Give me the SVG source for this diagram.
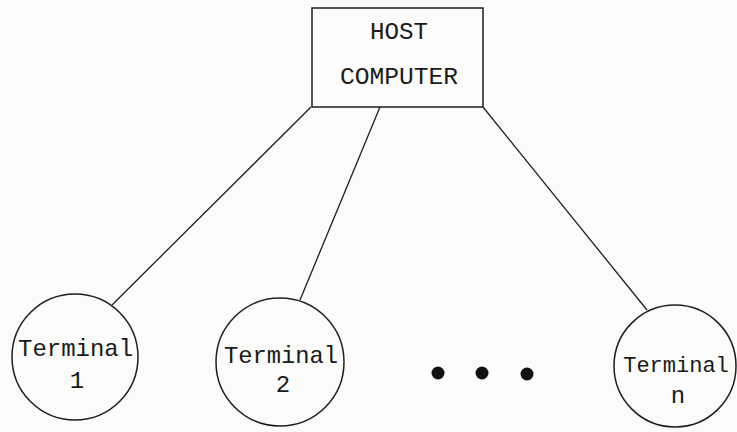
<svg xmlns="http://www.w3.org/2000/svg" width="737" height="432" viewBox="0 0 737 432">
<style>
.bg{fill:#fbfbfa}
.shape{fill:none;stroke:#1e1e1e;stroke-width:1.5}
.conn{stroke:#1e1e1e;stroke-width:1.3;fill:none}
.t{font-family:"Liberation Mono","Courier New",monospace;font-size:24px;fill:#1a1a1a;text-anchor:middle}
.s{font-size:22px}
.dot{fill:#111}
</style>
<rect class="bg" x="0" y="0" width="737" height="432"/>
<g id="connectors">
<line class="conn" x1="311" y1="107" x2="112" y2="305"/>
<line class="conn" x1="380" y1="107" x2="300" y2="300"/>
<line class="conn" x1="483" y1="107" x2="647" y2="310"/>
</g>
<g id="host">
<rect class="shape" x="312" y="8" width="171" height="99"/>
<text class="t" x="399" y="39" textLength="58" lengthAdjust="spacingAndGlyphs">HOST</text>
<text class="t" x="399" y="84" textLength="118" lengthAdjust="spacingAndGlyphs">COMPUTER</text>
</g>
<g id="terminal1">
<circle class="shape" cx="75" cy="357" r="63"/>
<text class="t" x="75.5" y="356" textLength="115" lengthAdjust="spacingAndGlyphs">Terminal</text>
<text class="t" x="77" y="388">1</text>
</g>
<g id="terminal2">
<circle class="shape" cx="280" cy="362" r="64"/>
<text class="t" x="281" y="363" textLength="114" lengthAdjust="spacingAndGlyphs">Terminal</text>
<text class="t" x="283" y="392">2</text>
</g>
<g id="ellipsis">
<circle class="dot" cx="438" cy="373" r="6.5"/>
<circle class="dot" cx="482" cy="373" r="6.5"/>
<circle class="dot" cx="527" cy="374" r="6.5"/>
</g>
<g id="terminaln">
<circle class="shape" cx="675" cy="366" r="61"/>
<text class="t s" x="676" y="372">Terminal</text>
<text class="t" x="678" y="403">n</text>
</g>
</svg>
